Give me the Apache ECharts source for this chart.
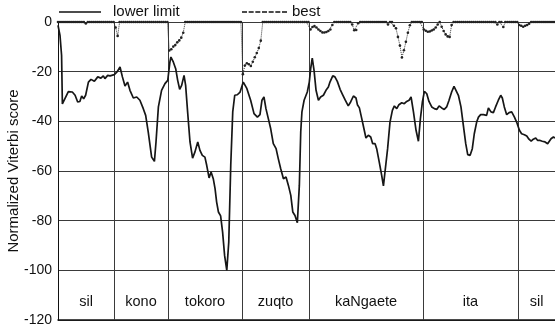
<!DOCTYPE html>
<html>
<head>
<meta charset="utf-8">
<script src="https://cdn.jsdelivr.net/npm/echarts@6/dist/echarts.min.js"></script>
<style>
  html, body { margin: 0; padding: 0; background: #fff; }
  #chart { width: 555px; height: 329px; }
</style>
</head>
<body>
<div id="chart"></div>
<script>
// Word segments of the utterance and their frame boundaries
const segmentNames = ['sil', 'kono', 'tokoro', 'zuqto', 'kaNgaete', 'ita', 'sil'];
const segmentBounds = [0, 28.2, 55.3, 92.6, 126.3, 183.6, 231.4, 250];

// Lower limit of the normalized Viterbi score (frame, score)
const lowerFrames = [
  0, 1, 1.8, 2.2, 3.2, 5.2, 7.2, 8.6, 9.9, 11, 11.9, 12.9, 13.9, 15.3, 16.6, 18.3, 20, 21.6, 22.8, 23.6,
  25, 26.2, 27, 28.3, 29.7, 31.2, 32.4, 33.7, 35, 36.2, 37.9, 39.6, 41.2, 42.9, 44.1, 45.4, 47.1, 48.5, 49.3, 50.5,
  52.1, 53.8, 55.2, 56.3, 56.8, 58, 59.2, 60.2, 61.2, 62.2, 63.4, 64.2, 65.2, 66.4, 67.7, 68.9, 70.3, 71.4, 72.6, 73.9,
  74.8, 76, 77, 78.1, 79, 79.8, 80.7, 81.8, 82.8, 83.8, 84.9, 85.9, 86.9, 87.9, 88.9, 90.2, 91.6, 93.2, 94.9, 96.9,
  98.6, 100.3, 101.6, 102.6, 103.6, 104.6, 105.8, 107, 108.3, 109.7, 110.8, 112, 113.4, 114.7, 115.9, 117.1, 118.1, 119.2, 120.4, 121.4,
  122.1, 122.7, 123.8, 125.4, 126.4, 127.1, 127.9, 128.8, 129.8, 131, 132.1, 133.5, 134.8, 136, 136.8, 138.2, 139.3, 140.5, 141.9, 143.2,
  144.5, 146, 147.2, 148.6, 149.9, 150.6, 151.6, 152.8, 153.9, 154.9, 156.1, 157.3, 158.3, 159.5, 160.3, 161.6, 162.8, 163.7, 164.5, 165.8,
  167, 168.2, 169.2, 170.4, 171.5, 172.9, 174.2, 175.4, 176.6, 177.6, 178.8, 180.1, 181.3, 182.3, 183.3, 184.3, 185.5, 186.6, 188, 189.3,
  190.5, 191.7, 193, 194.3, 195.5, 196.7, 198, 199.2, 200.2, 201.4, 202.7, 203.9, 205.1, 206.1, 207.3, 208.4, 209.4, 210.6, 211.5, 212.6,
  214, 214.8, 215.6, 216.5, 217.8, 219, 220.1, 221.5, 222.7, 223.5, 224.5, 225.7, 226.9, 228.2, 229.6, 230.7, 232.1, 233.2, 234.6, 235.8,
  236.9, 238, 239.1, 240.3, 241.3, 242.5, 243.6, 245, 246.3, 247.2, 248, 249.2, 250
];
const lowerScores = [
  -1.3, -5.4, -13.4, -33, -33, -28, -28.2, -29.5, -32.2, -32, -29.8, -30.9, -29.5, -24.2, -23.1, -23.9, -22.1, -22.6, -21.7, -22.8,
  -21.5, -21.7, -21.2, -21.2, -20.1, -18.1, -22.1, -25.8, -24.2, -27.5, -30.6, -30.2, -31.5, -34.9, -37.6, -44.3, -54.4, -56.1, -48.3, -34.2,
  -27.5, -24.8, -23.5, -16.1, -14.1, -16.1, -18.8, -23.5, -27.1, -25.5, -21.5, -25.5, -36.2, -48.3, -54.8, -52.3, -48.3, -51.7, -53.7, -54.4,
  -57.7, -62.8, -60.4, -63.1, -67.1, -72.5, -76.5, -78.1, -84.6, -94, -100, -88.6, -57.7, -36.2, -29.5, -29.3, -28.2, -24.2, -26.6, -31.5,
  -36.9, -38.3, -37.3, -31.5, -30.2, -34.9, -38.9, -43, -49, -51, -55, -59, -63.1, -62.4, -65.8, -69.8, -76.5, -77.9, -80.8, -65.8,
  -44.3, -36.2, -31.5, -28.2, -24.2, -18.8, -14.5, -19.5, -27.5, -31.5, -30.2, -29.5, -27.5, -26.2, -24.2, -21.7, -22.1, -23.9, -27.1, -29.3,
  -31.5, -33.8, -32.2, -29.8, -30.6, -33.3, -34.6, -38.9, -43, -46.7, -45.6, -46.3, -49, -49, -51, -56.4, -61.7, -66, -66.4, -51,
  -40.3, -35.6, -33.8, -34.9, -33.3, -32.5, -32.9, -32, -31.5, -30.2, -36.2, -43.6, -48, -38.9, -32.2, -27.9, -28.9, -32, -34.2, -34.9,
  -35.2, -33.8, -34.6, -35.2, -34.2, -31.5, -28.2, -25.9, -26.2, -29.5, -34.2, -41.6, -49, -53.4, -53.7, -51, -45, -40.3, -38.3, -37.3,
  -37.3, -36.5, -37.6, -34.6, -36.2, -36.5, -34.2, -31.5, -29.5, -30.6, -34.2, -37.3, -36.5, -36.2, -38.3, -40.3, -43.6, -45, -45.4, -45.9,
  -47.2, -48, -47.2, -46.7, -47.7, -47.7, -48, -48.3, -49, -48.3, -47, -46.3, -46.7
];

// Best path score: one value per frame; frames not listed here score 0
const frameCount = 251;
const bestDipFrames = [
  14, 29, 30,
  56, 57, 58, 59, 60, 61, 62, 63,
  93, 94, 95, 96, 97, 98, 99, 100, 101, 102,
  127, 128, 129, 130, 131, 132, 133, 134, 135, 136, 137, 138, 148, 149, 150, 151,
  166, 169, 170, 171, 172, 173, 174, 175, 176, 177,
  184, 185, 186, 187, 188, 189, 190, 191, 193, 194, 195, 196, 197, 198,
  221, 224, 232, 233, 234, 235, 236, 237
];
const bestDipScores = [
  -0.6, -2.2, -5.6,
  -11.5, -11, -9.9, -9.3, -8.2, -7.4, -6.3, -4.3,
  -21, -17.5, -16.6, -17, -17.7, -16, -14.2, -12.5, -10.5, -7.5,
  -3, -2, -1.6, -2.2, -3, -3.6, -4.2, -4.2, -4, -3.6, -3, -1.2, -1, -3.3, -3.2, -0.5,
  -1, -1.5, -2.5, -6, -9.5, -14.3, -11.4, -8, -4.3, -1.3,
  -3, -3.5, -3.9, -3.8, -3.4, -3, -2.2, -1, -1.9, -3.6, -5, -5.8, -6, -1.2,
  -1, -2, -1.2, -1.5, -1.9, -1.5, -1.2, -0.7
];

// Y axis ticks
const yTicks = [-120, -100, -80, -60, -40, -20, 0];

const FONT = 'Liberation Sans, Arial, Helvetica, sans-serif';

const lowerData = lowerFrames.map((f, i) => [f, lowerScores[i]]);
const bestMap = new Map(bestDipFrames.map((f, i) => [f, bestDipScores[i]]));
const bestData = [];
for (let f = 0; f < frameCount; f++) bestData.push([f, bestMap.has(f) ? bestMap.get(f) : 0]);

const boundaryLines = segmentBounds.slice(1, -1).map(b => ({ xAxis: b }));
const segmentAreas = segmentNames.map((name, i) => [
  { name: name, xAxis: segmentBounds[i] },
  { xAxis: segmentBounds[i + 1] }
]);

const chart = echarts.init(document.getElementById('chart'), null, { renderer: 'canvas' });
chart.setOption({
  animation: false,
  backgroundColor: '#fff',
  textStyle: { fontFamily: FONT },
  grid: { left: 58, right: 0, top: 22, bottom: 9, containLabel: false, outerBoundsMode: 'none' },
  legend: [
    {
      data: [{ name: 'lower limit', icon: 'rect' }],
      left: 59, top: 4.5, padding: 0,
      itemWidth: 42, itemHeight: 1.6,
      symbolKeepAspect: false,
      itemStyle: { color: '#111' },
      textStyle: { fontFamily: FONT, fontSize: 15, color: '#111', padding: [0, 0, 0, 7] }
    },
    {
      data: [{ name: 'best', icon: 'path://M0,0h3v1h-3zM4,0h3v1h-3zM8,0h3v1h-3zM12,0h3v1h-3zM16,0h3v1h-3zM20,0h3v1h-3zM24,0h3v1h-3z' }],
      left: 242, top: 4.5, padding: 0,
      itemWidth: 45, itemHeight: 1.4,
      symbolKeepAspect: false,
      itemStyle: { color: '#111' },
      textStyle: { fontFamily: FONT, fontSize: 15, color: '#111' }
    }
  ],
  xAxis: {
    type: 'value',
    min: 0, max: 250,
    axisLine: { show: true, onZero: false, lineStyle: { color: '#111', width: 1.5 } },
    axisTick: { show: false },
    axisLabel: { show: false },
    splitLine: { show: false }
  },
  yAxis: {
    type: 'value',
    min: yTicks[0], max: yTicks[yTicks.length - 1], interval: 20,
    name: 'Normalized Viterbi score',
    nameLocation: 'middle',
    nameGap: 37,
    nameMoveOverlap: false,
    nameTextStyle: { fontFamily: FONT, fontSize: 15, color: '#111' },
    axisLine: { show: true, onZero: false, lineStyle: { color: '#111', width: 1 } },
    axisTick: { show: false },
    axisLabel: { fontFamily: FONT, fontSize: 14, color: '#111', margin: 6 },
    splitLine: { show: true, lineStyle: { color: '#3a3a3a', width: 1 } }
  },
  series: [
    {
      name: 'lower limit',
      type: 'line',
      data: lowerData,
      showSymbol: false,
      symbol: 'none',
      lineStyle: { color: '#161616', width: 1.7 },
      itemStyle: { color: '#161616' },
      z: 3,
      markLine: {
        silent: true,
        symbol: 'none',
        label: { show: false },
        lineStyle: { color: '#3a3a3a', width: 1, type: 'solid' },
        data: boundaryLines,
        z: 1
      },
      markArea: {
        silent: true,
        itemStyle: { color: 'rgba(0,0,0,0)' },
        label: {
          show: true, position: 'insideBottom', distance: 11,
          fontFamily: FONT, fontSize: 14.5, color: '#111'
        },
        data: segmentAreas
      }
    },
    {
      name: 'best',
      type: 'line',
      data: bestData,
      symbol: 'circle',
      symbolSize: 2.6,
      showAllSymbol: true,
      lineStyle: { color: '#333', width: 1, type: 'dotted' },
      itemStyle: { color: '#222' },
      z: 4
    }
  ]
});
</script>
</body>
</html>
